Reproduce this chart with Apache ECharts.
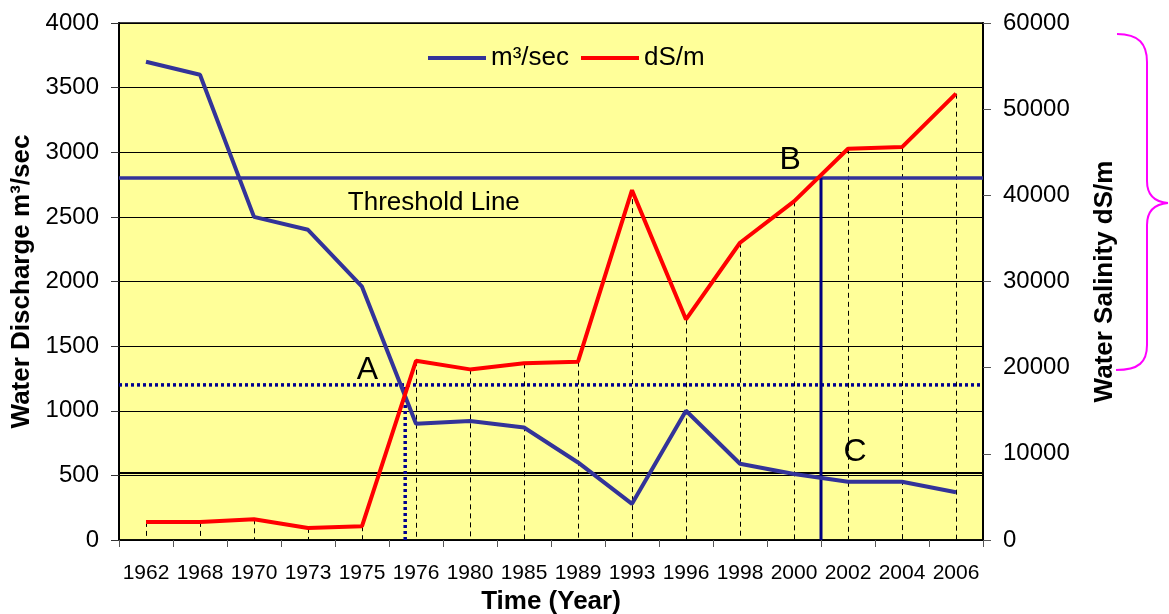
<!DOCTYPE html>
<html>
<head>
<meta charset="utf-8">
<script src="https://cdn.jsdelivr.net/npm/echarts@6/dist/echarts.min.js"></script>
<style>
  html, body { margin: 0; padding: 0; background: #fff; }
  #chart { width: 1169px; height: 614px; }
</style>
</head>
<body>
<div id="chart"></div>
<script>
// Survey years along the category axis
const years = ['1962','1968','1970','1973','1975','1976','1980','1985','1989','1993','1996','1998','2000','2002','2004','2006'];
// River discharge (m³/sec), left axis
const discharge = [3700, 3600, 2500, 2400, 1960, 900, 920, 870, 600, 280, 1000, 590, 510, 450, 450, 370];
// Water salinity (dS/m), right axis
const salinity = [2100, 2100, 2400, 1400, 1600, 20800, 19800, 20500, 20700, 40600, 25600, 34500, 39300, 45400, 45600, 51800];

// Axis ranges and tick steps
const dischargeTicks = { min: 0, max: 4000, step: 500 };
const salinityTicks = { min: 0, max: 60000, step: 10000 };

// Reference levels (discharge units)
const thresholdLevel = 2800;
const pointALevel = 1200;
const lowFlowLevel = 518;
// Positions along the year band (0..16, one unit per year column)
const pointAPos = 5.3;
const pointBPos = 13;

// In-plot captions: [band position, discharge level, text, font size]
const captions = [
  [5.83, 2607, 'Threshold Line', 26],
  [4.6, 1315, 'A', 32],
  [12.43, 2940, 'B', 32],
  [13.63, 681, 'C', 32]
];

const FONT = '"Liberation Sans", Arial, sans-serif';
const BLUE = '#333399';
const NAVY = '#000080';
const RED = '#FF0000';
const MAGENTA = '#FF00FF';

const chart = echarts.init(document.getElementById('chart'), null, { renderer: 'canvas' });

const plainNumber = (v) => String(v);

const noSymbolLine = (data, color, width, type) => ({
  type: 'line',
  xAxisIndex: 1,
  yAxisIndex: 0,
  data: data,
  symbol: 'none',
  silent: true,
  animation: false,
  lineStyle: { color: color, width: width, type: type || 'solid', cap: 'butt' },
  z: 3
});

// Curly brace beside the salinity axis
const braceStyle = { stroke: MAGENTA, lineWidth: 2, fill: null };
const braceCurve = (x1, y1, cx1, cy1, cx2, cy2, x2, y2) => ({
  type: 'bezierCurve', silent: true,
  shape: { x1: x1, y1: y1, cpx1: cx1, cpy1: cy1, cpx2: cx2, cpy2: cy2, x2: x2, y2: y2 },
  style: braceStyle
});
const braceLine = (x1, y1, x2, y2) => ({
  type: 'line', silent: true,
  shape: { x1: x1, y1: y1, x2: x2, y2: y2 },
  style: braceStyle
});

chart.setOption({
  animation: false,
  backgroundColor: '#fff',
  textStyle: { fontFamily: FONT },
  grid: {
    left: 119, right: 186, top: 23, bottom: 74,
    containLabel: false,
    outerBoundsMode: 'none',
    show: true,
    backgroundColor: '#FFFF99',
    borderColor: '#000',
    borderWidth: 1.5
  },
  legend: {
    data: ['m³/sec', 'dS/m'],
    left: 423,
    top: 40,
    icon: 'rect',
    itemWidth: 58,
    itemHeight: 4,
    itemGap: 12,
    textStyle: { fontFamily: FONT, fontSize: 26, color: '#000' }
  },
  xAxis: [
    {
      type: 'category',
      data: years,
      boundaryGap: true,
      name: 'Time (Year)',
      nameLocation: 'middle',
      nameGap: 43,
      nameTextStyle: { fontFamily: FONT, fontSize: 26, fontWeight: 'bold', color: '#000' },
      axisLine: { lineStyle: { color: '#000', width: 1.5 } },
      axisTick: { show: true, interval: 0, length: 7, lineStyle: { color: '#555' } },
      axisLabel: { interval: 0, margin: 23, fontFamily: FONT, fontSize: 21, color: '#000' },
      splitLine: { show: false }
    },
    {
      type: 'value',
      min: 0, max: 16,
      show: false
    }
  ],
  yAxis: [
    {
      type: 'value',
      min: dischargeTicks.min, max: dischargeTicks.max, interval: dischargeTicks.step,
      name: 'Water Discharge m³/sec',
      nameLocation: 'middle',
      nameGap: 71,
      nameTextStyle: { fontFamily: FONT, fontSize: 26, fontWeight: 'bold', color: '#000' },
      axisLine: { show: true, lineStyle: { color: '#000', width: 2 } },
      axisTick: { show: true, length: 8, lineStyle: { color: '#333' } },
      axisLabel: { margin: 20, fontFamily: FONT, fontSize: 24, color: '#000', formatter: plainNumber },
      splitLine: { show: true, lineStyle: { color: '#000', width: 1 } }
    },
    {
      type: 'value',
      position: 'right',
      min: salinityTicks.min, max: salinityTicks.max, interval: salinityTicks.step,
      name: 'Water Salinity dS/m',
      nameLocation: 'middle',
      nameGap: 109,
      nameRotate: 90,
      nameTextStyle: { fontFamily: FONT, fontSize: 26, fontWeight: 'bold', color: '#000' },
      axisLine: { show: true, lineStyle: { color: '#000', width: 2 } },
      axisTick: { show: true, length: 8, lineStyle: { color: '#555' } },
      axisLabel: { margin: 20, fontFamily: FONT, fontSize: 24, color: '#000', formatter: plainNumber },
      splitLine: { show: false }
    }
  ],
  series: [
    // dashed drop lines from each salinity point to the axis
    {
      type: 'custom',
      xAxisIndex: 0,
      yAxisIndex: 1,
      silent: true,
      data: salinity.map((v, i) => [i, v]),
      renderItem: (params, api) => {
        const top = api.coord([api.value(0), api.value(1)]);
        const bot = api.coord([api.value(0), 0]);
        const x = Math.round(top[0]) + 0.5;
        return {
          type: 'line',
          shape: { x1: x, y1: top[1], x2: x, y2: bot[1] },
          style: { stroke: '#000', lineWidth: 1, lineDash: [5, 4] }
        };
      },
      z: 1
    },
    noSymbolLine([[0, lowFlowLevel], [16, lowFlowLevel]], '#000', 2),
    noSymbolLine([[0, thresholdLevel], [16, thresholdLevel]], BLUE, 3.5),
    noSymbolLine([[0, pointALevel], [16, pointALevel]], '#00008F', 3.5, [3, 3]),
    noSymbolLine([[pointAPos, 0], [pointAPos, pointALevel]], '#00008F', 3.5, [3, 3]),
    noSymbolLine([[pointBPos, 0], [pointBPos, thresholdLevel]], NAVY, 3),
    {
      name: 'm³/sec',
      type: 'line',
      xAxisIndex: 0,
      yAxisIndex: 0,
      data: discharge,
      symbol: 'none',
      color: BLUE,
      lineStyle: { color: BLUE, width: 4 },
      z: 4
    },
    {
      name: 'dS/m',
      type: 'line',
      xAxisIndex: 0,
      yAxisIndex: 1,
      data: salinity,
      symbol: 'none',
      color: RED,
      lineStyle: { color: RED, width: 4 },
      z: 5
    },
    // captions placed in data coordinates
    {
      type: 'custom',
      xAxisIndex: 1,
      yAxisIndex: 0,
      silent: true,
      data: captions.map((c) => [c[0], c[1]]),
      renderItem: (params, api) => {
        const p = api.coord([api.value(0), api.value(1)]);
        const c = captions[params.dataIndex];
        return {
          type: 'text',
          x: p[0], y: p[1],
          style: {
            text: c[2],
            fill: '#000',
            font: c[3] + 'px ' + FONT,
            align: 'center',
            verticalAlign: 'middle'
          }
        };
      },
      z: 6
    }
  ],
  graphic: [
    braceCurve(1117, 34, 1139, 34, 1147, 44, 1147, 62),
    braceLine(1147, 62, 1147, 181),
    braceCurve(1147, 181, 1147, 195, 1155, 202, 1168, 203),
    braceCurve(1168, 203, 1155, 204, 1147, 211, 1147, 225),
    braceLine(1147, 225, 1147, 345),
    braceCurve(1147, 345, 1147, 362, 1139, 370, 1116, 370)
  ]
});
</script>
</body>
</html>
